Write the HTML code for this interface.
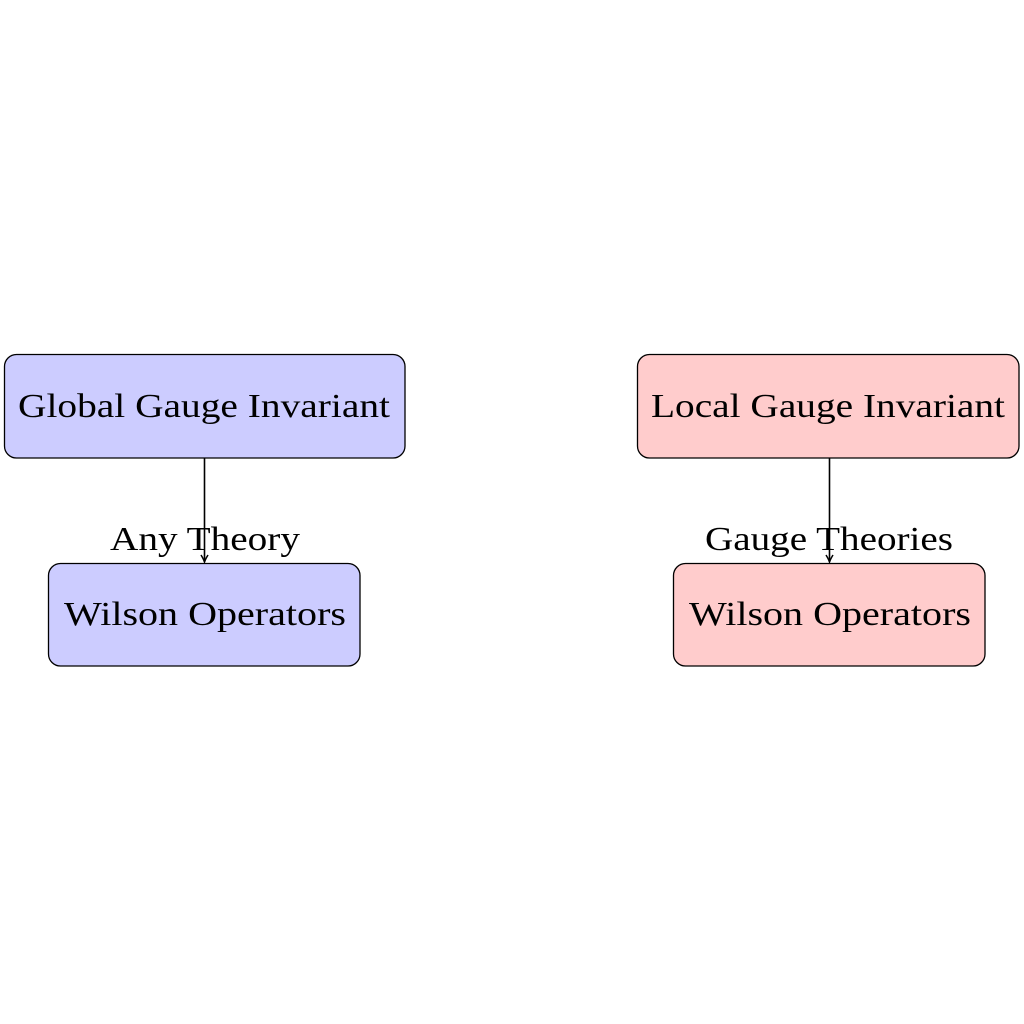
<!DOCTYPE html>
<html><head><meta charset="utf-8"><style>html,body{margin:0;padding:0;background:#fff}svg{display:block}</style></head>
<body>
<svg width="1024" height="1024" viewBox="0 0 1024 1024" xmlns="http://www.w3.org/2000/svg" font-family="'Liberation Serif', serif" font-size="34">
<defs><marker id="a" markerWidth="10" markerHeight="10" refX="8" refY="5" orient="auto" markerUnits="userSpaceOnUse"><path d="M1,1.5 Q5,4 8,5 Q5,6 1,8.5" fill="none" stroke="#000" stroke-width="1.5"/></marker></defs>
<rect x="4.5" y="354.5" width="400.5" height="103.5" rx="12" fill="#ccccff" stroke="#000" stroke-width="1.3"/>
<rect x="48.5" y="563.5" width="311.5" height="102.5" rx="12" fill="#ccccff" stroke="#000" stroke-width="1.3"/>
<rect x="637.5" y="354.5" width="381.5" height="103.5" rx="12" fill="#ffcccc" stroke="#000" stroke-width="1.3"/>
<rect x="673.5" y="563.5" width="311.5" height="102.5" rx="12" fill="#ffcccc" stroke="#000" stroke-width="1.3"/>
<line x1="204.5" y1="458" x2="204.5" y2="562" stroke="#000" stroke-width="1.6" marker-end="url(#a)"/>
<line x1="829.5" y1="458" x2="829.5" y2="562" stroke="#000" stroke-width="1.6" marker-end="url(#a)"/>
<text x="18" y="417" textLength="372" lengthAdjust="spacingAndGlyphs">Global Gauge Invariant</text>
<text x="651" y="417" textLength="354" lengthAdjust="spacingAndGlyphs">Local Gauge Invariant</text>
<text x="64" y="625" textLength="282" lengthAdjust="spacingAndGlyphs">Wilson Operators</text>
<text x="689" y="625" textLength="282" lengthAdjust="spacingAndGlyphs">Wilson Operators</text>
<text x="110" y="550" textLength="190" lengthAdjust="spacingAndGlyphs">Any Theory</text>
<text x="705" y="550" textLength="248" lengthAdjust="spacingAndGlyphs">Gauge Theories</text>
</svg>
</body></html>
